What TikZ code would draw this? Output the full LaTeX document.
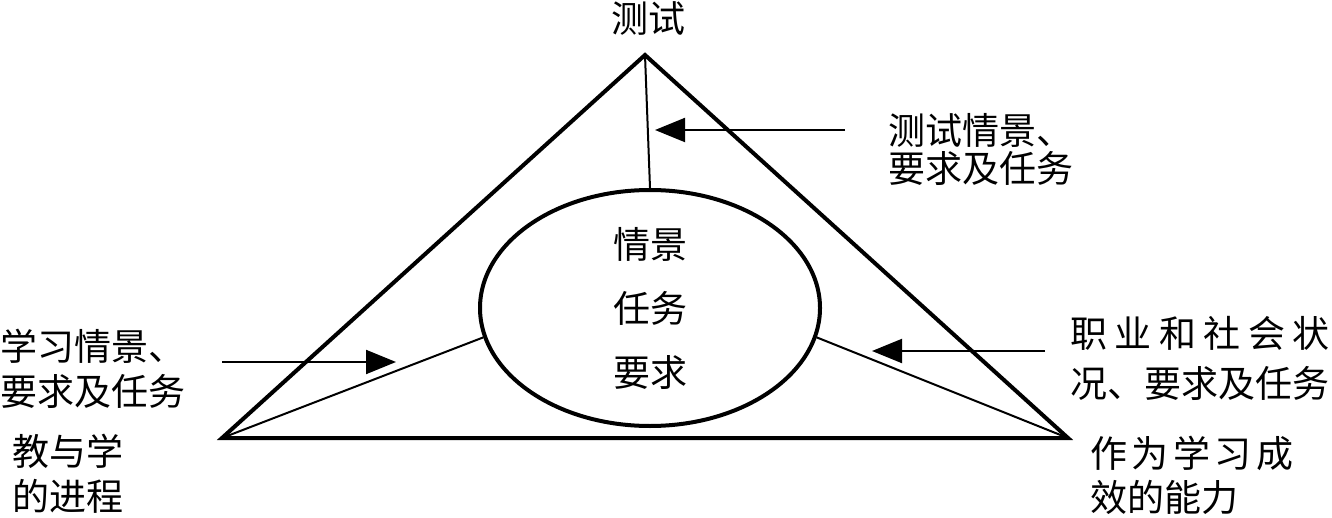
\documentclass[tikz,border=0pt]{standalone}
\usepackage{fontspec}
\setmainfont{Noto Sans CJK SC}
\usetikzlibrary{arrows.meta,shapes.geometric}

\begin{document}
\begin{tikzpicture}[x=0.5pt,y=-0.5pt,
  lbl/.style={inner sep=0pt, align=left, font=\fontsize{18.5pt}{22.5pt}\selectfont},
  edge/.style={line width=2pt, line join=miter},
  spoke/.style={line width=1pt},
  pointer/.style={line width=1pt, -{Triangle[length=15pt,width=12pt]}}]
\useasboundingbox (0,0) rectangle (1332,518);

% Corners of the triangle and the ellipse in the middle
\coordinate (top) at (645,55);
\coordinate (left) at (222,438);
\coordinate (right) at (1068,438);
\draw[edge] (top) -- (left) -- (right) -- cycle;
\node[ellipse, draw, line width=2pt, minimum width=170pt, minimum height=118pt, inner sep=0pt,
      align=center, font=\fontsize{18.5pt}{22pt}\selectfont] (situ) at (650,308)
  {情景\\[10pt]任务\\[10pt]要求};

% Spokes from the corners to the ellipse
\draw[spoke] (top) -- (situ.north);
\draw[spoke] (left) -- (situ.190);
\draw[spoke] (right) -- (situ.-10);

% Labels
\node[lbl] (test) at (648,18) {测试};
\node[lbl, anchor=west, font=\fontsize{18.5pt}{19pt}\selectfont] (testsitu) at (888,149) {测试情景、\\要求及任务};
\node[lbl, anchor=west] (learnsitu) at (0,369) {学习情景、\\要求及任务};
\node[lbl, anchor=west] (teach) at (12,474) {教与学\\的进程};
\node[lbl, anchor=west, font=\fontsize{18.5pt}{25pt}\selectfont] (worksitu) at (1070,358)
  {\makebox[129.5pt]{职\hfill 业\hfill 和\hfill 社\hfill 会\hfill 状}\\况、要求及任务};
\node[lbl, anchor=west, font=\fontsize{18.5pt}{22pt}\selectfont] (ability) at (1090,475)
  {\makebox[101.5pt]{作\hfill 为\hfill 学\hfill 习\hfill 成}\\效的能力};

% Arrows
\coordinate (a1s) at (845,130); \coordinate (a1e) at (655,130);
\coordinate (a2s) at (222,362); \coordinate (a2e) at (396,362);
\coordinate (a3s) at (1045,351); \coordinate (a3e) at (872,351);
\draw[pointer] (a1s) -- (a1e);
\draw[pointer] (a2s) -- (a2e);
\draw[pointer] (a3s) -- (a3e);
\end{tikzpicture}
\end{document}
